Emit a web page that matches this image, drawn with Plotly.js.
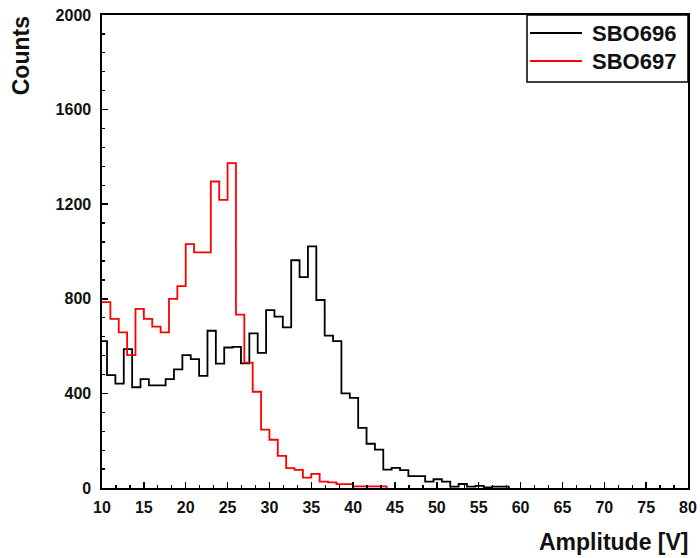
<!DOCTYPE html>
<html>
<head>
<meta charset="utf-8">
<script src="https://cdn.plot.ly/plotly-3.0.1.min.js"></script>
<style>html,body{margin:0;padding:0;background:#fff;}#chart{width:700px;height:558px;}</style>
</head>
<body>
<div id="chart"></div>
<script>
// Histogram bin left edges (last entry closes the final bin) and counts
const blackName = "SBO696";
const blackEdges = [9.6,10.6,11.6,12.6,13.6,14.6,15.6,16.6,17.6,18.6,19.6,20.6,21.6,22.6,23.6,24.6,25.6,26.6,27.6,28.6,29.6,30.6,31.6,32.6,33.6,34.6,35.6,36.6,37.6,38.6,39.6,40.6,41.6,42.6,43.6,44.6,45.6,46.6,47.6,48.6,49.6,50.6,51.6,52.6,53.6,54.6,55.6,56.6,57.6,58.6];
const blackCounts = [621,477,441,587,426,460,434,434,460,502,562,545,474,665,526,594,597,527,654,571,752,725,679,963,892,1022,795,644,621,400,381,254,187,162,78,85,76,50,50,27,37,27,6,17,6,9,3,6,6,0];

const redName = "SBO697";
const redEdges = [10,11,12,13,14,15,16,17,18,19,20,21,22,23,24,25,26,27,28,29,30,31,32,33,34,35,36,37,38,39,40,41,42,43,44];
const redCounts = [786,715,658,562,757,715,682,658,800,854,1031,996,996,1296,1218,1374,733,530,407,247,204,136,84,77,44,60,27,24,16,16,7,7,7,7,0];

const xTickVals = [10,15,20,25,30,35,40,45,50,55,60,65,70,75,80];
const yTickVals = [0,400,800,1200,1600,2000];

const FONT = "Liberation Sans, Arial, sans-serif";
const BLACK = "#000000", RED = "#ff0000";

const traces = [
  {x: blackEdges, y: blackCounts, name: blackName, type: "scatter", mode: "lines",
   line: {shape: "hv", color: BLACK, width: 1.8}},
  {x: redEdges, y: redCounts, name: redName, type: "scatter", mode: "lines",
   line: {shape: "hv", color: RED, width: 1.8}}
];

const axisCommon = {
  showgrid: false, zeroline: false, showline: true, linecolor: "#000", linewidth: 1.6,
  mirror: true, ticks: "inside", ticklen: 6, tickwidth: 1.5, tickcolor: "#000",
  tickfont: {family: FONT, size: 16, color: "#111", weight: "bold"}
};

// Legend box drawn in paper coordinates (layout only)
const legendFont = {family: FONT, size: 22, color: "#111", weight: "bold"};
const legendShapes = [
  {type: "rect", xref: "paper", yref: "paper", x0: 0.7253, x1: 1, y0: 0.8584, y1: 1,
   line: {color: "#000", width: 1.5}, fillcolor: "#fff", layer: "above"},
  {type: "line", xref: "paper", yref: "paper", x0: 0.7304, x1: 0.8191, y0: 0.9619, y1: 0.9619,
   line: {color: BLACK, width: 1.8}, layer: "above"},
  {type: "line", xref: "paper", yref: "paper", x0: 0.7304, x1: 0.8191, y0: 0.9027, y1: 0.9027,
   line: {color: RED, width: 1.8}, layer: "above"}
];

const layout = {
  width: 700, height: 558,
  margin: {l: 102, r: 12, t: 15, b: 70},
  paper_bgcolor: "#fff", plot_bgcolor: "#fff",
  showlegend: false,
  xaxis: Object.assign({}, axisCommon, {
    range: [10, 80], tickvals: xTickVals, ticktext: xTickVals.map(String),
    minor: {dtick: 5/3, tick0: 10, ticks: "inside", ticklen: 3, tickwidth: 1.3, tickcolor: "#000"},
    ticklabelstandoff: 4
  }),
  yaxis: Object.assign({}, axisCommon, {
    range: [0, 2000], tickvals: yTickVals, ticktext: yTickVals.map(String),
    minor: {dtick: 80, tick0: 0, ticks: "inside", ticklen: 3, tickwidth: 1.3, tickcolor: "#000"},
    ticklabelstandoff: 6
  }),
  shapes: legendShapes,
  annotations: [
    {text: blackName, xref: "paper", yref: "paper", x: 0.8328, y: 0.9619,
     xanchor: "left", yanchor: "middle", showarrow: false, font: legendFont},
    {text: redName, xref: "paper", yref: "paper", x: 0.8328, y: 0.9027,
     xanchor: "left", yanchor: "middle", showarrow: false, font: legendFont},
    {text: "Counts", xref: "paper", yref: "paper", x: -0.138, y: 0.913,
     xanchor: "center", yanchor: "middle", textangle: -90, showarrow: false,
     font: {family: FONT, size: 23, color: "#111", weight: "bold"}},
    {text: "Amplitude [V]", xref: "paper", yref: "paper", x: 1, y: -0.114, xshift: 3,
     xanchor: "right", yanchor: "middle", showarrow: false,
     font: {family: FONT, size: 23, color: "#111", weight: "bold"}}
  ]
};

Plotly.newPlot("chart", traces, layout, {displayModeBar: false, staticPlot: true});
</script>
</body>
</html>
